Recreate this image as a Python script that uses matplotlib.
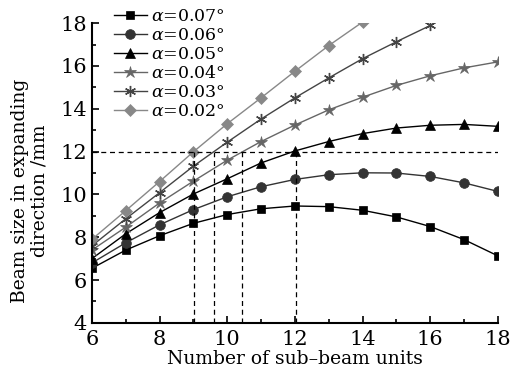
import numpy as np
import matplotlib
matplotlib.use('Agg')
import matplotlib.pyplot as plt
from matplotlib.ticker import MultipleLocator

plt.rcParams['font.family'] = ['DejaVu Serif']
plt.rcParams['mathtext.fontset'] = 'dejavuserif'

units = list(range(6, 19))

alpha_labels = ['0.07', '0.06', '0.05', '0.04', '0.03', '0.02']

size_007 = [6.55, 7.40, 8.07, 8.65, 9.06, 9.33, 9.46, 9.43, 9.26, 8.95, 8.50, 7.89, 7.13]
size_006 = [6.80, 7.74, 8.58, 9.29, 9.89, 10.36, 10.70, 10.92, 11.01, 11.00, 10.84, 10.54, 10.14]
size_005 = [7.00, 8.16, 9.15, 10.02, 10.73, 11.47, 12.03, 12.47, 12.84, 13.10, 13.23, 13.27, 13.18]
size_004 = [7.40, 8.47, 9.60, 10.62, 11.60, 12.47, 13.24, 13.95, 14.54, 15.09, 15.54, 15.91, 16.19]
size_003 = [7.60, 8.86, 10.08, 11.32, 12.44, 13.52, 14.51, 15.44, 16.34, 17.13, 17.89]
size_002 = [7.90, 9.24, 10.60, 11.99, 13.30, 14.51, 15.75, 16.95, 18.05]

series = [size_007, size_006, size_005, size_004, size_003, size_002]
markers = ['s', 'o', '^', '*', (6, 2, 0), 'D']
colors = ['#000000', '#333333', '#000000', '#666666', '#444444', '#888888']
msizes = [6, 7, 7, 9, 8, 6]

# where each curve reaches 12 mm
cross_x = [9.02, 9.62, 10.44, 12.03]

fig = plt.figure(figsize=(5.28, 3.79), dpi=100)
ax = fig.add_axes([0.174, 0.148, 0.769, 0.791])

for vals, lab, m, c, ms in zip(series, alpha_labels, markers, colors, msizes):
    xs = units[:len(vals)]
    ax.plot(xs, vals, color=c, marker=m, markersize=ms, linewidth=1.0,
            markeredgewidth=1.0 if isinstance(m, tuple) else 0.5,
            label=r'$\alpha$=' + lab + '°', clip_on=True)

ax.axhline(12, color='black', linestyle=(0, (4, 3)), linewidth=0.9)
for cx in cross_x:
    ax.plot([cx, cx], [4, 12], color='black', linestyle=(0, (4, 3)), linewidth=0.9)

ax.set_xlim(6, 18)
ax.set_ylim(4, 18)
ax.xaxis.set_major_locator(MultipleLocator(2))
ax.xaxis.set_minor_locator(MultipleLocator(1))
ax.yaxis.set_major_locator(MultipleLocator(2))
ax.yaxis.set_minor_locator(MultipleLocator(1))
ax.tick_params(which='both', direction='in', labelsize=15, width=1.2)
ax.tick_params(which='major', length=5)
ax.tick_params(which='minor', length=3)
ax.tick_params(axis='x', pad=5)
for s in ['top', 'right']:
    ax.spines[s].set_visible(False)
for s in ['left', 'bottom']:
    ax.spines[s].set_linewidth(1.5)

ax.set_xlabel('Number of sub\u2013beam units', fontsize=13.5, labelpad=1)
ax.set_ylabel('Beam size in expanding\ndirection /mm', fontsize=13.5,
              linespacing=1.1)
ax.yaxis.set_label_coords(-0.108, 0.44)

fig.legend(loc='upper left', bbox_to_anchor=(0.215, 0.98), frameon=False,
           fontsize=12.5, handlelength=1.9, handletextpad=0.25, labelspacing=0.12,
           borderaxespad=0, borderpad=0)

fig.savefig('out.png', dpi=100)
